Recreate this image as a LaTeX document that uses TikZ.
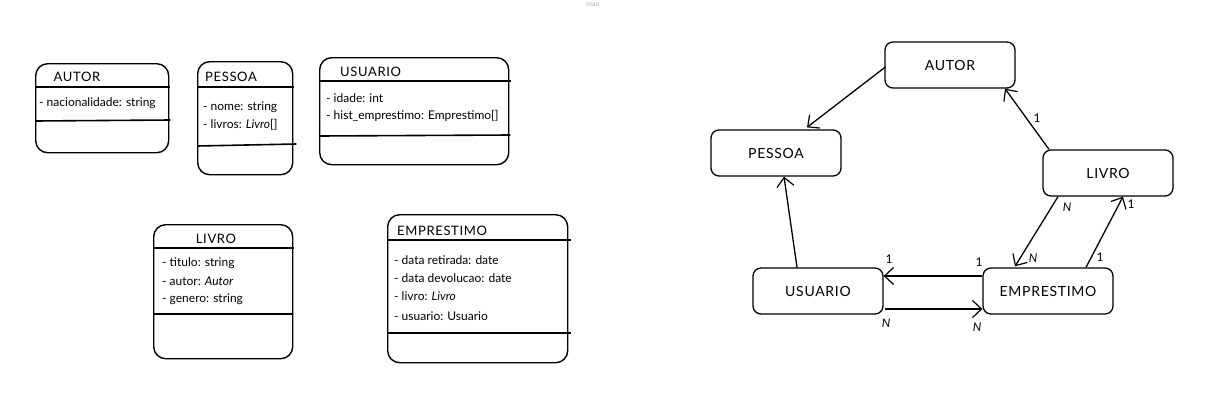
\documentclass[tikz,border=0pt]{standalone}
\usepackage{fontspec}
\setmainfont{Lato}
\newfontfamily\capsfont[LetterSpace=5]{Lato}
\usetikzlibrary{arrows.meta,calc}
\begin{document}
\begin{tikzpicture}[x=1pt,y=-1pt,
  umlbox/.style={draw, line width=1.4pt, rounded corners=12pt, inner sep=0pt, anchor=north west},
  sepline/.style={line width=1.6pt},
  titletxt/.style={inner sep=0pt, font=\capsfont\fontsize{13}{15}\selectfont},
  attrtxt/.style={inner sep=0pt, anchor=west, font=\fontsize{12}{14}\selectfont},
  rbox/.style={draw, line width=1.3pt, rounded corners=8pt, minimum width=130pt, minimum height=46pt, inner sep=0pt, font=\capsfont\fontsize{14}{16}\selectfont},
  conn/.style={line width=1.3pt, -{Straight Barb[length=9pt,width=17pt,line width=1.2pt]}},
  lbl/.style={inner sep=0pt, font=\fontsize{12}{14}\selectfont},
  nlbl/.style={inner sep=0pt, font=\itshape\fontsize{12}{14}\selectfont}
]
\useasboundingbox (0,0) rectangle (1221,413);
\fill[white] (0,0) rectangle (1221,413);
\node[inner sep=0pt, text=gray!60, font=\fontsize{7}{8}\selectfont] (mao) at (593,5) {mao};

% ---- UML class boxes ----
% AUTOR
\node[umlbox, minimum width=133pt, minimum height=89pt] (cAutor) at (35,63) {};
\node[titletxt] (cAutorT) at (77,77) {AUTOR};
\draw[sepline] ($(cAutor.north west)+(0,24)$) -- ($(cAutor.north east)+(1,24)$);
\node[attrtxt] (cAutorA1) at (39,103) {- nacionalidade: string};
\draw[sepline] ($(cAutor.north west)+(0,58)$) -- ($(cAutor.north east)+(1,57)$);

% PESSOA
\node[umlbox, minimum width=95pt, minimum height=113pt] (cPessoa) at (197,61) {};
\node[titletxt, anchor=west] (cPessoaT) at (205,77) {PESSOA};
\draw[sepline] ($(cPessoa.north west)+(0,26)$) -- ($(cPessoa.north east)+(1,26)$);
\node[attrtxt] (cPessoaA1) at (203,107) {- nome: string};
\node[attrtxt] (cPessoaA2) at (203,125) {- livros: \textit{Livro}[]};
\draw[sepline] ($(cPessoa.north west)+(0,85)$) -- ($(cPessoa.north east)+(3,83)$);

% USUARIO
\node[umlbox, minimum width=189pt, minimum height=107pt] (cUsuario) at (319,57) {};
\node[titletxt, anchor=west] (cUsuarioT) at (340,72) {USUARIO};
\draw[sepline] ($(cUsuario.north west)+(0,24)$) -- ($(cUsuario.north east)+(2,24)$);
\node[attrtxt] (cUsuarioA1) at (326,98) {- idade: int};
\node[attrtxt] (cUsuarioA2) at (326,116) {- hist\_emprestimo: Emprestimo[]};
\draw[sepline] ($(cUsuario.north west)+(0,79)$) -- ($(cUsuario.north east)+(1,78)$);

% LIVRO
\node[umlbox, minimum width=139pt, minimum height=134pt] (cLivro) at (153,224) {};
\node[titletxt] (cLivroT) at (216,239) {LIVRO};
\draw[sepline] ($(cLivro.north west)+(0,24)$) -- ($(cLivro.north east)+(1,24)$);
\node[attrtxt] (cLivroA1) at (162,263) {- titulo: string};
\node[attrtxt] (cLivroA2) at (162,281) {- autor: \textit{Autor}};
\node[attrtxt] (cLivroA3) at (162,299) {- genero: string};
\draw[sepline] ($(cLivro.north west)+(0,90)$) -- ($(cLivro.north east)+(0,90)$);

% EMPRESTIMO
\node[umlbox, minimum width=180pt, minimum height=148pt] (cEmp) at (387,214) {};
\node[titletxt, anchor=west] (cEmpT) at (397,231) {EMPRESTIMO};
\draw[sepline] ($(cEmp.north west)+(0,26)$) -- ($(cEmp.north east)+(3,26)$);
\node[attrtxt] (cEmpA1) at (394,260) {- data retirada: date};
\node[attrtxt] (cEmpA2) at (394,278) {- data devolucao: date};
\node[attrtxt] (cEmpA3) at (394,296) {- livro: \textit{Livro}};
\node[attrtxt] (cEmpA4) at (394,316) {- usuario: Usuario};
\draw[sepline] ($(cEmp.north west)+(0,119)$) -- ($(cEmp.north east)+(3,119)$);

% ---- Relationship diagram ----
\node[rbox] (autor) at (950,65) {AUTOR};
\node[rbox] (pessoa) at (776,153) {PESSOA};
\node[rbox] (livro) at (1108,173) {LIVRO};
\node[rbox] (usuario) at (818,291) {USUARIO};
\node[rbox] (emprestimo) at (1048,291) {EMPRESTIMO};

\draw[conn] ($(autor.west)+(1,2)$) -- ($(pessoa.north)+(31,-2)$);
\draw[conn] ($(livro.north)+(-59,0)$) -- ($(autor.south)+(55,0)$);
\draw[conn] ($(usuario.north)+(-21,0)$) -- ($(pessoa.south)+(8,0)$);
\draw[conn] ($(livro.south)+(-50,0)$) -- ($(emprestimo.north)+(-33,-1)$);
\draw[conn] ($(emprestimo.north)+(38,0)$) -- ($(livro.south)+(15,0)$);
\draw[conn] ($(emprestimo.west)+(0,-15)$) -- ($(usuario.east)+(0,-15)$);
\draw[conn] ($(usuario.east)+(1,18)$) -- ($(emprestimo.west)+(0,18)$);

\node[lbl] (l1) at (1037,118) {1};
\node[nlbl] (l2) at (1067,207) {N};
\node[nlbl] (l3) at (1033,258) {N};
\node[lbl] (l4) at (1131,204) {1};
\node[lbl] (l5) at (1100,257) {1};
\node[lbl] (l6) at (889,259) {1};
\node[lbl] (l7) at (979,262) {1};
\node[nlbl] (l8) at (886,323) {N};
\node[nlbl] (l9) at (977,327) {N};
\end{tikzpicture}
\end{document}
